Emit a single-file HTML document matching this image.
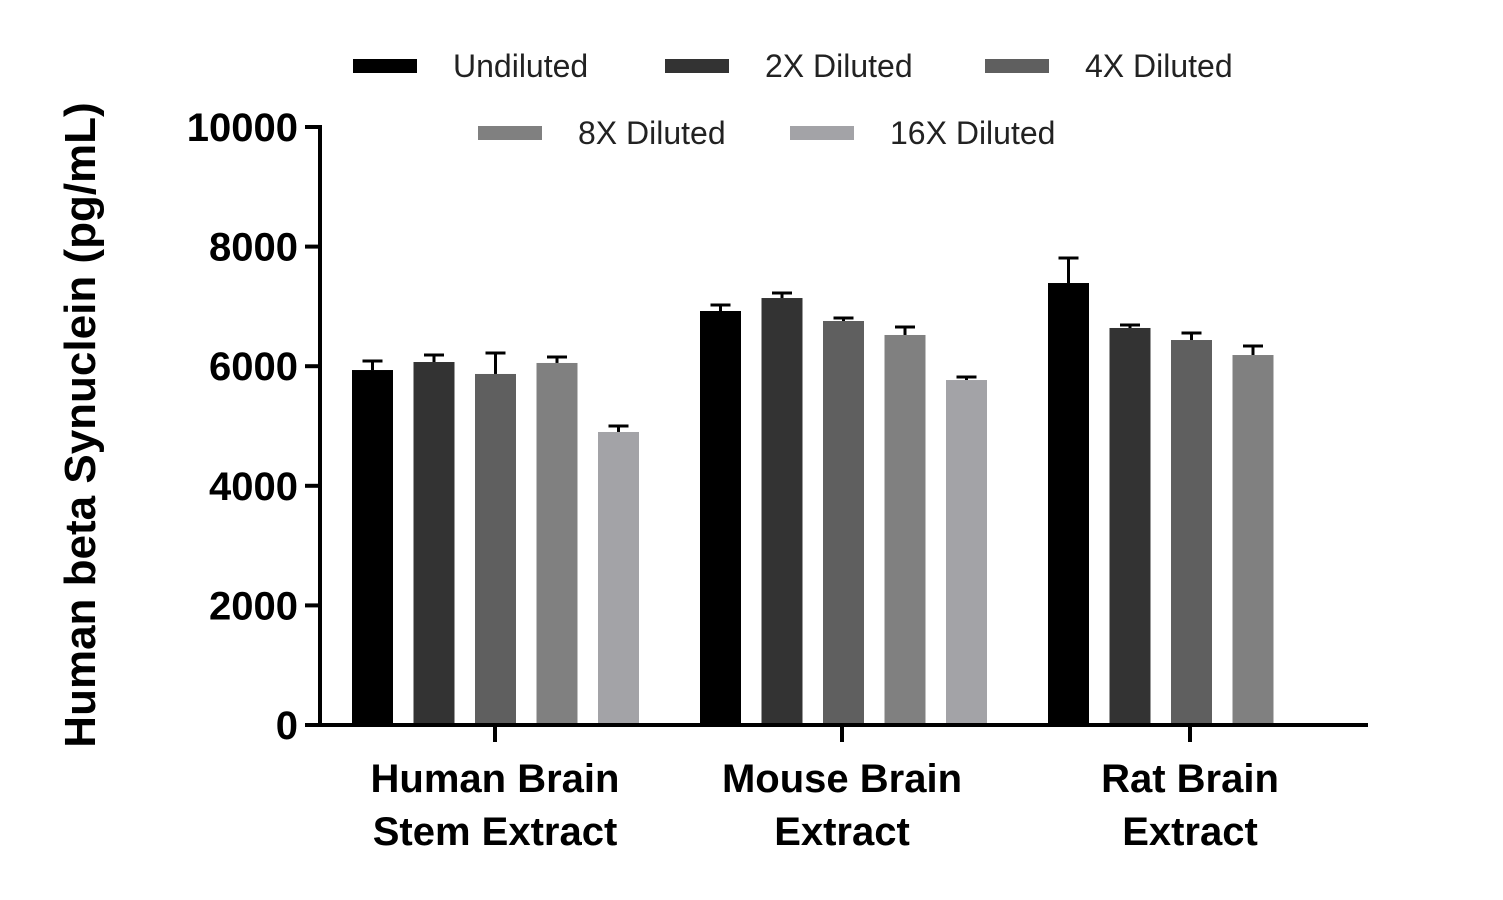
<!DOCTYPE html>
<html><head><meta charset="utf-8"><style>
body{margin:0;background:#fff}
svg{display:block;font-family:"Liberation Sans",sans-serif}
</style></head><body>
<svg id="chart" width="1503" height="900">
<g id="legend"></g>
<g id="plot"></g>
<text transform="translate(95,425) rotate(-90)" text-anchor="middle" font-size="44" font-weight="bold" fill="#000">Human beta Synuclein (pg/mL)</text>
</svg>
<script>
const categories=[["Human Brain","Stem Extract"],["Mouse Brain","Extract"],["Rat Brain","Extract"]];
const seriesNames=["Undiluted","2X Diluted","4X Diluted","8X Diluted","16X Diluted"];
const undiluted=[5936,6923,7391];
const dil2=[6070,7140,6639];
const dil4=[5870,6756,6438];
const dil8=[6054,6522,6187];
const dil16=[4900,5769,null];
const err2=[0,0,0];
const errUndiluted=[151,100,418];
const errDil2=[117,84,50];
const errDil4=[350,50,117];
const errDil8=[100,134,151];
const errDil16=[100,50,null];
const yTicks=[0,2000,4000,6000,8000,10000];
const colors=["#000000","#333333","#5f5f5f","#808080","#a3a3a7"];
const series=[undiluted,dil2,dil4,dil8,dil16];
const errs=[errUndiluted,errDil2,errDil4,errDil8,errDil16];
const NS="http://www.w3.org/2000/svg";
const y0=725,yTop=127,yMax=10000;
function yScale(v){return y0-(v/yMax)*(y0-yTop);}
const groupStart=[352,700,1048],barStep=61.5,barW=41;
function xBar(g,s){return groupStart[0]+g*348+s*barStep;}
function mk(tag,attrs,parent){const e=document.createElementNS(NS,tag);for(const k in attrs)e.setAttribute(k,attrs[k]);parent.appendChild(e);return e;}
const plot=document.getElementById('plot');
series.forEach((arr,s)=>{arr.forEach((v,g)=>{
  if(v==null)return;
  const x=xBar(g,s),yt=yScale(v),ye=yScale(v+errs[s][g]);
  const l=mk('line',{x1:x+barW/2,x2:x+barW/2,y1:yt,y2:ye,stroke:"#000","stroke-width":3},plot);
  
  
  const c=mk('line',{x1:x+barW/2-10,x2:x+barW/2+10,y1:ye,y2:ye,stroke:"#000","stroke-width":3},plot);
  
  
  const r=mk('rect',{x:x,y:yt,width:barW,height:y0-yt,fill:colors[s]},plot);
  
  
});});
const ya=mk('line',{x1:320,x2:320,y1:yTop-2,y2:y0+2,stroke:"#000","stroke-width":4},plot);


const xa=mk('line',{x1:305,x2:1368,y1:y0,y2:y0,stroke:"#000","stroke-width":4},plot);


yTicks.forEach(t=>{const y=yScale(t);
  const tk=mk('line',{x1:305,x2:320,y1:y,y2:y,stroke:"#000","stroke-width":4},plot);
  
  
  const tx=mk('text',{x:298,y:y+14,"text-anchor":"end","font-size":40,"font-weight":"bold"},plot);
  tx.textContent=t;
  
  
});
categories.forEach((c,g)=>{const cx=xBar(g,0)+2*barStep+barW/2-10+ (g==2?-20:0);
  const x=[495,842,1190][g];
  const tk=mk('line',{x1:x,x2:x,y1:y0,y2:742,stroke:"#000","stroke-width":4},plot);
  
  
  c.forEach((line,i)=>{const tx=mk('text',{x:x,y:792+i*53,"text-anchor":"middle","font-size":40,"font-weight":"bold"},plot);
    tx.textContent=line;
    
    });
});
const leg=document.getElementById('legend');
const legPos=[[353,66],[665,66],[985,66],[478,133],[790,133]];
seriesNames.forEach((n,i)=>{const [x,y]=legPos[i];
  const r=mk('rect',{x:x,y:y-7,width:64,height:14,fill:colors[i]},leg);
  
  
  const t=mk('text',{x:x+100,y:y+11,"font-size":32,fill:"#222"},leg);
  t.textContent=n;
  
  
});
</script>
</body></html>
